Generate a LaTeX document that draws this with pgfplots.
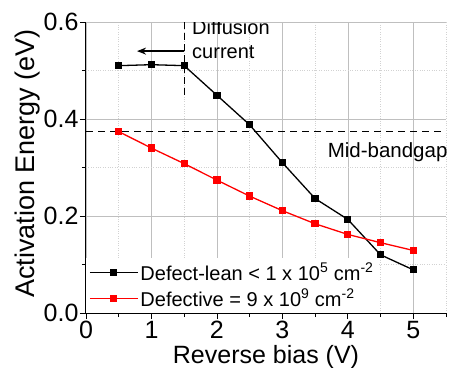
\documentclass[border=0pt]{standalone}
\usepackage{pgfplots}
\pgfplotsset{compat=1.18}
\usepackage{fontspec}
\setmainfont{Liberation Sans}
\usetikzlibrary{arrows.meta}
\begin{document}
\begin{tikzpicture}
\path[use as bounding box] (-86pt,-54pt) rectangle (363pt,313pt);
\begin{axis}[
 at={(0,0)}, anchor=south west,
 scale only axis, width=360pt, height=291pt,
 xmin=0, xmax=5.5, ymin=0, ymax=0.6,
 axis x line*=bottom, axis y line*=left,
 xtick={0,1,2,3,4,5}, ytick={0,0.2,0.4,0.6},
 minor xtick={0.5,1.5,2.5,3.5,4.5,5.5}, minor ytick={0.1,0.3,0.5},
 tick align=outside,
 major tick length=6pt, minor tick length=4pt,
 grid=both,
 major grid style={draw=gray!50, line width=0.6pt},
 minor grid style={draw=gray!35, dotted, line width=0.6pt},
 every tick/.style={black, line width=0.8pt},
 axis line style={line width=1pt},
 /pgf/number format/assume math mode=true,
 tick label style={font=\fontsize{25}{28}\selectfont},
 yticklabel style={xshift=2pt, /pgf/number format/.cd, fixed, fixed zerofill, precision=1},
 xticklabel style={yshift=1pt},
 xlabel={Reverse bias (V)}, ylabel={Activation Energy (eV)},
 xlabel style={font=\fontsize{25}{28}\selectfont, at={(axis description cs:0.5,0)}, anchor=base, yshift=-50pt},
 ylabel style={font=\fontsize{27}{30}\selectfont, at={(axis description cs:-0.142,0.514)}, anchor=base},
 legend style={at={(axis cs:0,0)}, anchor=south west, draw=none, fill=white,
   font=\fontsize{20}{22}\selectfont, row sep=3pt, inner sep=3pt, cells={anchor=west}},
 legend image code/.code={\draw[mark repeat=2,mark phase=2,#1] plot coordinates {(0pt,0pt)(24pt,0pt)(48pt,0pt)};},
]
\addplot[black, line width=1.3pt, mark=square*, mark size=3pt] coordinates {
(0.5,0.510) (1,0.512) (1.5,0.510) (2,0.449) (2.5,0.388) (3,0.310) (3.5,0.236) (4,0.193) (4.5,0.120) (5,0.089)};
\addlegendentry{Defect-lean < 1 x 10\textsuperscript{5} cm\textsuperscript{-2}}
\addplot[red, line width=1.3pt, mark=square*, mark size=3pt] coordinates {
(0.5,0.374) (1,0.340) (1.5,0.308) (2,0.274) (2.5,0.241) (3,0.211) (3.5,0.184) (4,0.162) (4.5,0.145) (5,0.129)};
\addlegendentry{Defective = 9 x 10\textsuperscript{9} cm\textsuperscript{-2}}
\draw[black, line width=1pt, dash pattern=on 7pt off 5pt] (axis cs:0,0.374) -- (axis cs:5.5,0.374);
\draw[black, line width=1pt, dash pattern=on 7pt off 4pt] (axis cs:1.5,0.6) -- (axis cs:1.5,0.447);
\draw[black, line width=1.3pt, -{Stealth[length=9pt,width=7pt]}] (axis cs:1.5,0.54) -- (axis cs:0.78,0.54);
\node[anchor=west, align=left, inner sep=0pt, font=\fontsize{20}{24}\selectfont] at (axis cs:1.62,0.565) {Diffusion\\current};
\node[anchor=east, inner sep=0pt, font=\fontsize{20.5}{24}\selectfont] at (axis cs:5.525,0.332) {Mid-bandgap};
\end{axis}
\end{tikzpicture}
\end{document}
